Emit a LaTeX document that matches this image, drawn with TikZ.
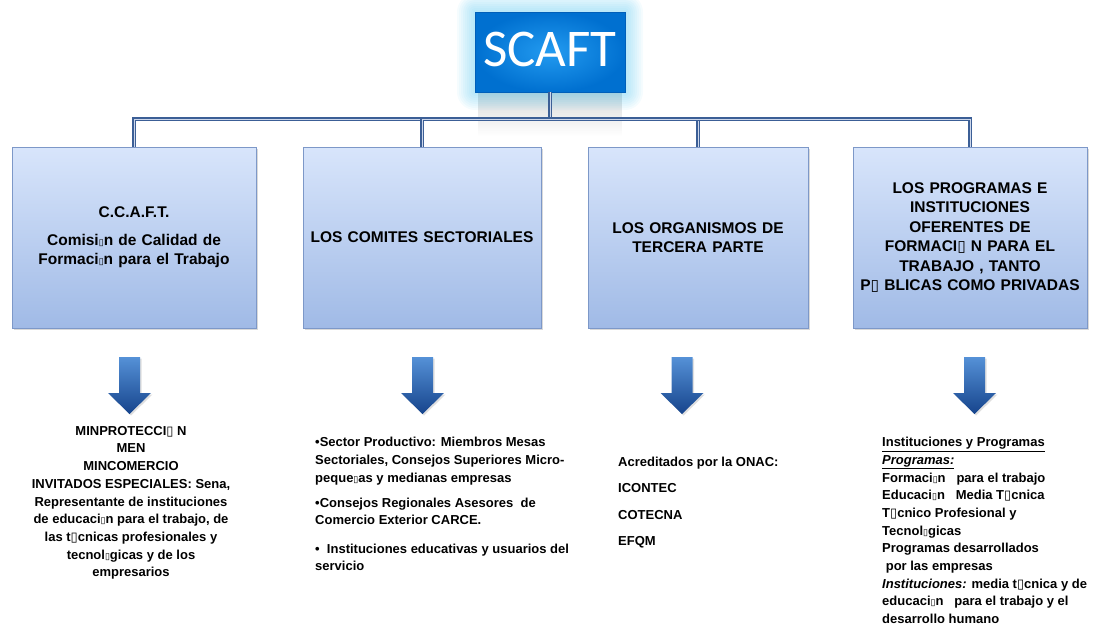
\documentclass[tikz,border=0pt]{standalone}
\usepackage{fontspec}
\setmainfont{Liberation Sans}
\newfontfamily\scaftfont{Carlito}
\newfontfamily\symfont{DejaVu Sans}
\usetikzlibrary{shadows,fadings}

\definecolor{scaftin}{RGB}{35,155,240}
\definecolor{scaftout}{RGB}{0,112,208}
\definecolor{scaftdark}{RGB}{0,95,185}
\definecolor{glowcyan}{RGB}{90,200,240}
\definecolor{linkblue}{RGB}{60,95,150}
\definecolor{linklight}{RGB}{205,215,235}
\definecolor{boxtop}{RGB}{216,229,251}
\definecolor{boxbottom}{RGB}{160,186,230}
\definecolor{boxedge}{RGB}{125,152,200}
\definecolor{arrowtop}{RGB}{85,145,215}
\definecolor{arrowbottom}{RGB}{22,68,140}

\newcommand\bx{{\symfont ▯}}
\newcommand\bxn{{\symfont\fontsize{9}{9}\selectfont ▯}}

\begin{document}
\begin{tikzpicture}[x=1pt, y=-1pt,
        scaft/.style={inner color=scaftin, outer color=scaftout, draw=scaftdark, text=white,
            minimum width=150pt, minimum height=80pt, inner sep=0pt, text depth=6pt,
            font=\scaftfont\fontsize{53}{53}\selectfont},
        unit/.style={draw=boxedge, top color=boxtop, bottom color=boxbottom, minimum height=181pt,
            align=center, inner sep=0pt, font=\bfseries\fontsize{15.5}{19.5}\selectfont,
            drop shadow={shadow xshift=2pt, shadow yshift=-2pt, opacity=.3}},
        note/.style={inner sep=0pt, font=\bfseries\fontsize{13}{17.7}\selectfont},
        arrowfill/.style={top color=arrowtop, bottom color=arrowbottom,
            drop shadow={shadow xshift=1.5pt, shadow yshift=-1.5pt, opacity=.25}},
        link/.style={draw=linkblue, double=linklight, double distance=1pt, line width=1.2pt},
    ]
    \useasboundingbox (0,0) rectangle (1112,629);

    % glow and shadow round the title
    \fill[black!70, opacity=.22, path fading=south] (478,92) rectangle (622,136);
    \foreach \g in {2,4,...,18}
        \fill[glowcyan, opacity=.06, rounded corners=\g pt] (475-\g,12-\g) rectangle (625+\g,92+\g);

    \node[scaft] (scaft) at (550,52) {SCAFT};

    \node[unit, minimum width=244pt, text width=232pt] (c1) at (134,237.5)
        {C.C.A.F.T.\\[8pt]Comisi\bxn n de Calidad de\\Formaci\bxn n para el Trabajo};
    \node[unit, minimum width=238pt, text width=232pt] (c2) at (422,237.5)
        {LOS COMITES SECTORIALES};
    \node[unit, minimum width=220pt, text width=210pt] (c3) at (698,237.5)
        {LOS ORGANISMOS DE\\TERCERA PARTE};
    \node[unit, minimum width=234pt, text width=228pt] (c4) at (970,237.5)
        {LOS PROGRAMAS E\\INSTITUCIONES\\OFERENTES DE\\FORMACI\bx\ N PARA EL\\TRABAJO , TANTO\\P\bx\ BLICAS COMO PRIVADAS};

    \coordinate (bus) at (550,119);
    \draw[link] (scaft.south) -- (bus);
    \foreach \u in {c1,c2,c3,c4}
        \draw[link] (bus) -| (\u.north);

    \foreach \x in {129.5,422.5,682,974.5}
        \path[arrowfill] (\x-10.5,357) -- (\x+10.5,357) -- (\x+10.5,393) -- (\x+21.5,393)
            -- (\x,414) -- (\x-21.5,393) -- (\x-10.5,393) -- cycle;

    \node[note, align=center, anchor=north] (n1) at (131,426)
        {MINPROTECCI\bx\ N\\MEN\\MINCOMERCIO\\INVITADOS ESPECIALES: Sena,\\Representante de instituciones\\de educaci\bxn n para el trabajo, de\\las t\bx cnicas profesionales y\\tecnol\bxn gicas y de los\\empresarios};
    \node[note, align=left, anchor=north west] (n2) at (315,437)
        {•Sector Productivo: Miembros Mesas\\Sectoriales, Consejos Superiores Micro-\\peque\bxn as y medianas empresas\\[7.5pt]•Consejos Regionales Asesores \ de\\Comercio Exterior CARCE.\\[10.5pt]• \ Instituciones educativas y usuarios del\\servicio};
    \node[note, align=left, anchor=north west, font=\bfseries\fontsize{13}{26.3}\selectfont] (n3) at (618,457)
        {Acreditados por la ONAC:\\ICONTEC\\COTECNA\\EFQM};
    \node[note, align=left, anchor=north west] (n4) at (882,437)
        {\underline{Instituciones y Programas}\\\textit{\underline{Programas:}}\\Formaci\bxn n \ \ para el trabajo\\Educaci\bxn n \ \ Media T\bx cnica\\T\bx cnico Profesional y\\Tecnol\bxn gicas\\Programas desarrollados\\\ por las empresas\\\textit{Instituciones:} media t\bx cnica y de\\educaci\bxn n \ \ para el trabajo y el\\desarrollo humano};
\end{tikzpicture}
\end{document}
